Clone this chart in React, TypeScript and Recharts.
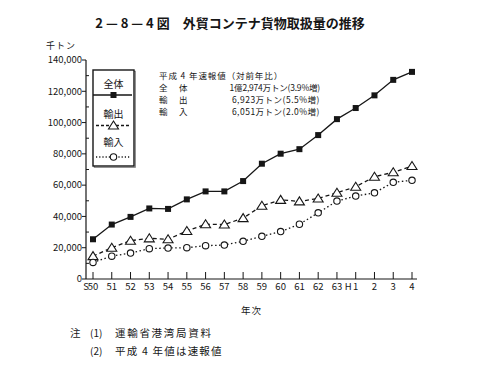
import { LineChart, Line, XAxis, YAxis } from "recharts"

const FONT = '"Noto Sans CJK JP", "Noto Sans", sans-serif'
const INK = "#161616"

// 年次 (昭和50年〜平成4年)
const years = ["S 50", "51", "52", "53", "54", "55", "56", "57", "58", "59", "60", "61", "62", "63", "H 1", "2", "3", "4"]

// 千トン
const total = [25400, 34800, 39700, 45100, 44800, 50900, 56000, 56000, 62600, 73700, 80100, 83000, 92000, 102200, 109300, 117400, 127300, 132400]
const exports = [14600, 20000, 24500, 26000, 25400, 30700, 35000, 34800, 38900, 46800, 50600, 49600, 51500, 55100, 59000, 65400, 68200, 72200]
const imports = [10600, 14600, 16600, 19400, 19800, 20000, 21300, 21700, 24100, 27300, 30300, 35000, 42300, 49800, 53000, 55100, 61800, 63100]

const yTicks = [0, 10000, 20000, 30000, 40000, 50000, 60000, 70000, 80000, 90000, 100000, 110000, 120000, 130000, 140000]

const noteRows = [
  ["全　体", "1億2,974万トン(3.9%増)"],
  ["輸　出", "6,923万トン(5.5%増)"],
  ["輸　入", "6,051万トン(2.0%増)"],
]

const data = years.map((year, i) => ({
  year,
  total: total[i],
  exports: exports[i],
  imports: imports[i],
}))

function SquareDot({ cx, cy }: any) {
  if (cx == null || cy == null) return null
  return <rect x={cx - 3} y={cy - 3} width={6} height={6} fill={INK} />
}

function TriangleDot({ cx, cy }: any) {
  if (cx == null || cy == null) return null
  return (
    <path
      d={`M${cx},${cy - 4.5} L${cx + 5},${cy + 3.5} L${cx - 5},${cy + 3.5} Z`}
      fill="#fff"
      stroke={INK}
      strokeWidth={1.1}
    />
  )
}

function CircleDot({ cx, cy }: any) {
  if (cx == null || cy == null) return null
  return <circle cx={cx} cy={cy} r={3.2} fill="#fff" stroke={INK} strokeWidth={1.1} />
}

function YTick({ x, y, payload }: any) {
  const v = payload.value as number
  if (v % 20000 !== 0) {
    return <line x1={x} x2={x + 3} y1={y} y2={y} stroke={INK} />
  }
  return (
    <g>
      <line x1={x - 4} x2={x} y1={y} y2={y} stroke={INK} />
      <text x={x - 4} y={y} dy="0.35em" textAnchor="end" fontSize={9.5} fill={INK} fontFamily={FONT}>
        {v.toLocaleString("en-US")}
      </text>
    </g>
  )
}

function XTick({ x, y, payload }: any) {
  const label = String(payload.value)
  const parts = label.split(" ")
  const num = parts[parts.length - 1]
  return (
    <g>
      <line x1={x} x2={x} y1={y} y2={y - 7} stroke={INK} />
      {parts.length > 1 && (
        <text x={x - 4} y={y + 8} dy="0.35em" textAnchor="end" fontSize={9.5} fill={INK} fontFamily={FONT}>
          {parts[0]}
        </text>
      )}
      <text x={x} y={y + 8} dy="0.35em" textAnchor="middle" fontSize={9.5} fill={INK} fontFamily={FONT}>
        {num}
      </text>
    </g>
  )
}

// legend box drawn over the plot, top-left
function LegendBox() {
  const items = [
    { name: "全体", dash: undefined, Dot: SquareDot, x1: 1, x2: 40, ty: 15, ly: 26 },
    { name: "輸出", dash: "3 2", Dot: TriangleDot, x1: 4, x2: 38, ty: 45, ly: 56.5 },
    { name: "輸入", dash: "1.2 2", Dot: CircleDot, x1: 4, x2: 38, ty: 73.5, ly: 88 },
  ]
  return (
    <svg
      width={44}
      height={100}
      style={{ position: "absolute", left: 92, top: 69, overflow: "visible" }}
    >
      <rect x={1.5} y={1.5} width={41} height={96} fill="#fff" stroke="#777" strokeWidth={1} transform="translate(0.8,0.8)" />
      <rect x={1} y={1} width={41} height={96} fill="#fff" stroke={INK} strokeWidth={1.4} />
      {items.map((it) => (
        <g key={it.name}>
          <text x={21.5} y={it.ty} dy="0.35em" textAnchor="middle" fontSize={10} fill={INK} fontFamily={FONT}>
            {it.name}
          </text>
          <line x1={it.x1} x2={it.x2} y1={it.ly} y2={it.ly} stroke={INK} strokeWidth={1.3} strokeDasharray={it.dash} />
          <it.Dot cx={21.5} cy={it.ly} />
        </g>
      ))}
    </svg>
  )
}

const noteFont = { fontSize: 8.5, lineHeight: "12.3px" }

export default function App() {
  return (
    <div
      style={{
        position: "absolute",
        left: 0,
        top: 0,
        width: 487,
        height: 371,
        background: "#fff",
        fontFamily: FONT,
        color: INK,
      }}
    >
      <div style={{ position: "absolute", left: 0, top: 14, width: 460, textAlign: "center", fontSize: 13, fontWeight: 700, lineHeight: "18px" }}>
        2 — 8 — 4 図　外貿コンテナ貨物取扱量の推移
      </div>
      <div style={{ position: "absolute", left: 46, top: 40, fontSize: 9, lineHeight: "12px", letterSpacing: 1 }}>千トン</div>

      <LineChart width={487} height={371} data={data} margin={{ top: 60, right: 70, bottom: 72, left: 26 }}>
        <XAxis
          dataKey="year"
          interval={0}
          height={20}
          tickSize={0}
          tickMargin={0}
          tickLine={false}
          tick={(p: any) => <XTick {...p} />}
          axisLine={{ stroke: INK, strokeWidth: 1.2 }}
          padding={{ left: 7, right: 5 }}
        />
        <XAxis xAxisId="frame" orientation="top" dataKey="year" height={0} tick={false} tickLine={false} axisLine={{ stroke: INK, strokeWidth: 1.2 }} />
        <YAxis
          domain={[0, 140000]}
          ticks={yTicks}
          interval={0}
          width={60}
          tickSize={0}
          tickMargin={0}
          tickLine={false}
          tick={(p: any) => <YTick {...p} />}
          axisLine={{ stroke: INK, strokeWidth: 1.2 }}
        />
        <YAxis yAxisId="frame" orientation="right" width={0} domain={[0, 140000]} tick={false} tickLine={false} axisLine={{ stroke: INK, strokeWidth: 1.2 }} />
        <Line dataKey="total" name="全体" stroke={INK} strokeWidth={1.3} dot={(p: any) => <SquareDot key={p.index} {...p} />} isAnimationActive={false} />
        <Line dataKey="exports" name="輸出" stroke={INK} strokeWidth={1.3} strokeDasharray="4 3" dot={(p: any) => <TriangleDot key={p.index} {...p} />} isAnimationActive={false} />
        <Line dataKey="imports" name="輸入" stroke={INK} strokeWidth={1.3} strokeDasharray="1.5 2.5" dot={(p: any) => <CircleDot key={p.index} {...p} />} isAnimationActive={false} />
      </LineChart>

      <LegendBox />

      <div style={{ position: "absolute", left: 159, top: 68.5, letterSpacing: 0.9, ...noteFont }}>
        平成 4 年速報値（対前年比）
      </div>
      {noteRows.map(([label, value], i) => (
        <div
          key={label}
          style={{
            position: "absolute",
            left: 159,
            top: 80.8 + i * 12.3,
            width: 161,
            display: "flex",
            justifyContent: "space-between",
            ...noteFont,
          }}
        >
          <span style={{ letterSpacing: 1.5 }}>{label}</span>
          <span style={{ letterSpacing: i === 0 ? -0.2 : 0.5 }}>{value}</span>
        </div>
      ))}

      <div style={{ position: "absolute", left: 241, top: 304, fontSize: 9.5, lineHeight: "12px", letterSpacing: 1 }}>年次</div>

      <div style={{ position: "absolute", left: 70, top: 326, fontSize: 10.5, lineHeight: "14px" }}>注</div>
      <div style={{ position: "absolute", left: 90, top: 326, fontSize: 10, lineHeight: "14px" }}>(1)</div>
      <div style={{ position: "absolute", left: 115, top: 326, fontSize: 10.5, lineHeight: "14px", letterSpacing: 1.7 }}>運輸省港湾局資料</div>
      <div style={{ position: "absolute", left: 90, top: 344, fontSize: 10, lineHeight: "14px" }}>(2)</div>
      <div style={{ position: "absolute", left: 115, top: 344, fontSize: 10.5, lineHeight: "14px", letterSpacing: 1.2 }}>平成 4 年値は速報値</div>
    </div>
  )
}
